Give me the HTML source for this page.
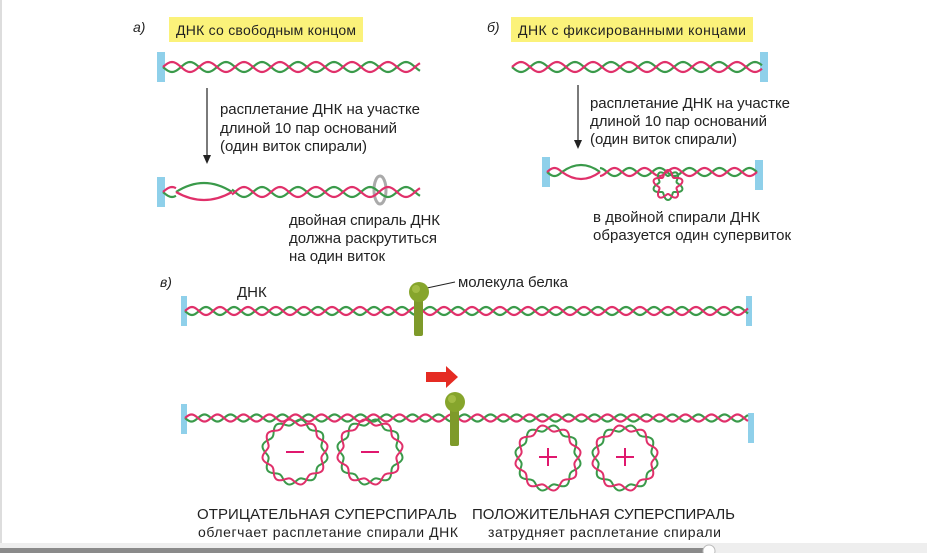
<!DOCTYPE html>
<html><head><meta charset="utf-8"><style>
body{margin:0;background:#fff;width:927px;height:553px;overflow:hidden;position:relative;font-family:"Liberation Sans",sans-serif}
svg{position:absolute;left:0;top:0}
text{font-family:"Liberation Sans",sans-serif;fill:#222}
</style></head><body>
<svg id="s" width="927" height="553" viewBox="0 0 927 553">
<rect x="0" y="0" width="2" height="543" fill="#ddd"/>
<text x="133" y="32" font-size="14" font-style="italic">а)</text>
<rect x="169" y="17" width="194" height="25" fill="#fbf27a"/>
<text x="176" y="35" font-size="14" textLength="180">ДНК со свободным концом</text>
<text x="487" y="32" font-size="14" font-style="italic">б)</text>
<rect x="511" y="17" width="242" height="25" fill="#fbf27a"/>
<text x="518" y="35" font-size="14" textLength="228">ДНК с фиксированными концами</text>

<rect x="157" y="52" width="8" height="30" fill="#8fd0ea"/>
<rect x="157" y="177" width="8" height="30" fill="#8fd0ea"/>
<rect x="760" y="52" width="8" height="30" fill="#8fd0ea"/>
<rect x="542" y="157" width="8" height="30" fill="#8fd0ea"/>
<rect x="755" y="160" width="8" height="30" fill="#8fd0ea"/>

<line x1="207" y1="88" x2="207" y2="156" stroke="#222" stroke-width="1.2"/>
<path d="M203,155 L207,164 L211,155 Z" fill="#222"/>
<text font-size="15"><tspan x="220" y="114" textLength="200">расплетание ДНК на участке</tspan><tspan x="220" y="133" textLength="177">длиной 10 пар оснований</tspan><tspan x="220" y="151" textLength="147">(один виток спирали)</tspan></text>
<text font-size="15"><tspan x="289" y="225" textLength="151">двойная спираль ДНК</tspan><tspan x="289" y="243" textLength="148">должна раскрутиться</tspan><tspan x="289" y="261" textLength="96">на один виток</tspan></text>
<ellipse cx="380" cy="190" rx="6" ry="14" fill="none" stroke="#aaa" stroke-width="3"/>

<line x1="578" y1="85" x2="578" y2="141" stroke="#222" stroke-width="1.2"/>
<path d="M574,140 L578,149 L582,140 Z" fill="#222"/>
<text font-size="15"><tspan x="590" y="108" textLength="200">расплетание ДНК на участке</tspan><tspan x="590" y="126" textLength="177">длиной 10 пар оснований</tspan><tspan x="590" y="144" textLength="147">(один виток спирали)</tspan></text>
<text font-size="15"><tspan x="593" y="222" textLength="167">в двойной спирали ДНК</tspan><tspan x="593" y="240" textLength="198">образуется один супервиток</tspan></text>

<text x="160" y="287" font-size="14" font-style="italic">в)</text>
<text x="237" y="297" font-size="15">ДНК</text>
<text x="458" y="287" font-size="15" textLength="110">молекула белка</text>
<line x1="427" y1="288" x2="455" y2="282" stroke="#222" stroke-width="1"/>
<rect x="181" y="296" width="6" height="30" fill="#8fd0ea"/>
<rect x="746" y="296" width="6" height="30" fill="#8fd0ea"/>
<rect x="181" y="404" width="6" height="30" fill="#8fd0ea"/>
<rect x="748" y="413" width="6" height="30" fill="#8fd0ea"/>
<path d="M426,372 L446,372 L446,366 L458,377 L446,388 L446,382 L426,382 Z" fill="#e52b23"/>
<g id="h"></g>
<rect x="414" y="298" width="9" height="38" rx="2" fill="#7e9a2a"/>
<circle cx="419" cy="292" r="10" fill="#86a52c"/><circle cx="416" cy="289" r="4" fill="#b5cc55" opacity=".6"/>
<rect x="450" y="408" width="9" height="38" rx="2" fill="#7e9a2a"/>
<circle cx="455" cy="402" r="10" fill="#86a52c"/><circle cx="452" cy="399" r="4" fill="#b5cc55" opacity=".6"/>
<g stroke="#e0186e" stroke-width="2">
<line x1="286" y1="452" x2="304" y2="452"/><line x1="361" y1="452" x2="379" y2="452"/>
<line x1="539" y1="457" x2="557" y2="457"/><line x1="548" y1="448" x2="548" y2="466"/>
<line x1="616" y1="457" x2="634" y2="457"/><line x1="625" y1="448" x2="625" y2="466"/>
</g>
<text x="197" y="519" font-size="15" textLength="260">ОТРИЦАТЕЛЬНАЯ СУПЕРСПИРАЛЬ</text>
<text x="198" y="537" font-size="14" textLength="260">облегчает расплетание спирали ДНК</text>
<text x="472" y="519" font-size="15" textLength="263">ПОЛОЖИТЕЛЬНАЯ СУПЕРСПИРАЛЬ</text>
<text x="488" y="537" font-size="14" textLength="233">затрудняет расплетание спирали</text>
<rect x="0" y="543" width="927" height="10" fill="#eee"/>
<rect x="0" y="548" width="710" height="5" fill="#8a8a8a"/>
<circle cx="709" cy="551" r="6" fill="#fff" stroke="#bbb"/>
</svg>
<script>
var R="#e0306a",G="#3a9a4a",g=document.getElementById('h'),ns="http://www.w3.org/2000/svg";
function P(d,c,w){var p=document.createElementNS(ns,'path');p.setAttribute('d',d);p.setAttribute('fill','none');p.setAttribute('stroke',c);p.setAttribute('stroke-width',w||2.2);g.appendChild(p);}
function helix(x1,x2,y,a,per,skip){for(var k=0;k<2;k++){var d="",m=true;for(var x=x1;x<=x2;x+=1){if(skip&&x>skip[0]&&x<skip[1]){m=true;continue;}var yy=y+a*Math.sin((x-x1)/per*2*Math.PI+k*Math.PI);d+=(m?"M":"L")+x+","+yy.toFixed(1);m=false;}P(d,k?R:G);}}
function ring(cx,cy,r,a,n){for(var k=0;k<2;k++){var d="";for(var i=0;i<=360;i+=2){var t=i*Math.PI/180,rr=r+a*Math.sin(t*n+k*Math.PI);d+=(i?"L":"M")+(cx+rr*Math.cos(t)).toFixed(1)+","+(cy+rr*Math.sin(t)).toFixed(1);}P(d,k?R:G,2);}}
helix(163,420,67,5,36);
helix(163,420,192,5,36,[176,232]);
P("M176,192 Q204,174 232,192",G);P("M176,192 Q204,208 232,192",R);
helix(512,762,67,5,36);
helix(547,757,172,4,30,[562,600]);
P("M562,172 Q581,158 600,172",G);P("M562,172 Q581,186 600,172",R);
ring(668,185,12,3,5);
helix(185,748,311,4,28);
helix(185,748,418,3.5,26);
ring(295,452,30,3,8);ring(370,452,30,3,8);ring(548,458,30,3,8);ring(625,458,30,3,8);
</script>
</body></html>
